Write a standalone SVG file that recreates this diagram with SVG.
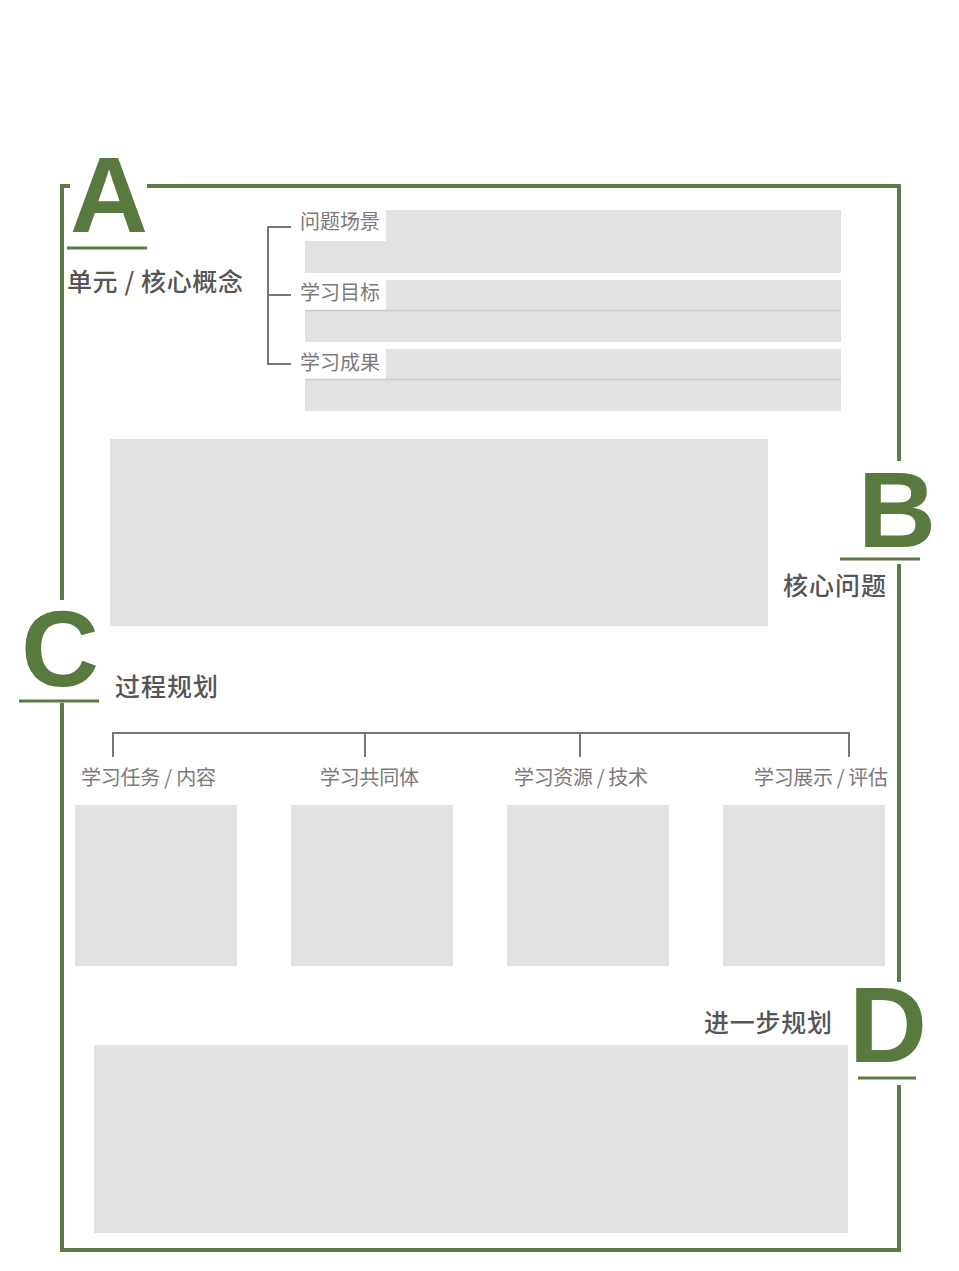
<svg xmlns="http://www.w3.org/2000/svg" width="959" height="1271" viewBox="0 0 959 1271">
<style>
.frame{fill:none;stroke:#5b7a45;stroke-width:4;stroke-linecap:square}
.uline{stroke:#5b7a45;stroke-width:3}
.letter{font-family:"Liberation Sans",Arial,sans-serif;font-weight:bold;font-size:108px;fill:#587a3f}
.title{font-family:"Noto Sans CJK SC","Noto Sans",sans-serif;font-size:25px;font-weight:500;fill:#555555}
.label{font-family:"Noto Sans CJK SC","Noto Sans",sans-serif;font-size:20px;fill:#7a7a7a}
.box{fill:#e2e2e2}
.div{stroke:#cccccc;stroke-width:1.5}
.conn{fill:none;stroke:#777777;stroke-width:2}
</style>
<rect x="0" y="0" width="959" height="1271" fill="#ffffff"/>

<g id="frame">
<path class="frame" d="M68,186 H62 V598"/>
<path class="frame" d="M62,705 V1250 H899 V1087"/>
<path class="frame" d="M899,980 V566"/>
<path class="frame" d="M899,459 V186 H149"/>
</g>

<g id="connectors">
<path class="conn" d="M291,227 H268 V364 H291 M268,295 H291"/>
<path class="conn" d="M113,757 V733 H849 V757 M365,733 V757 M580,733 V757"/>
</g>

<g id="sectionA">
<text class="letter" x="70" y="232">A</text>
<line class="uline" x1="67" y1="248" x2="147" y2="248"/>
<text class="title" x="67" y="291" textLength="176">单元 / 核心概念</text>
</g>

<g id="problemScene">
<path class="box" d="M386,210 H841 V273 H305 V241 H386 Z"/>
<text class="label" x="300" y="229">问题场景</text>
</g>
<g id="learningGoal">
<path class="box" d="M386,280 H841 V342 H305 V311 H386 Z"/>
<line class="div" x1="305" y1="310.5" x2="841" y2="310.5"/>
<text class="label" x="300" y="300">学习目标</text>
</g>
<g id="learningOutcome">
<path class="box" d="M386,349 H841 V411 H305 V380 H386 Z"/>
<line class="div" x1="305" y1="379.5" x2="841" y2="379.5"/>
<text class="label" x="300" y="370">学习成果</text>
</g>

<g id="sectionB">
<rect class="box" x="110" y="439" width="658" height="187"/>
<text class="letter" x="858" y="547">B</text>
<line class="uline" x1="840" y1="559" x2="920" y2="559"/>
<text class="title" x="783" y="595" textLength="103">核心问题</text>
</g>

<g id="sectionC">
<text class="letter" x="21" y="686">C</text>
<line class="uline" x1="19" y1="701" x2="99" y2="701"/>
<text class="title" x="115" y="696" textLength="103">过程规划</text>
</g>

<g id="task">
<text class="label" x="81" y="785" textLength="135">学习任务 / 内容</text>
<rect class="box" x="75" y="805" width="162" height="161"/>
</g>
<g id="community">
<text class="label" x="320" y="785" textLength="99">学习共同体</text>
<rect class="box" x="291" y="805" width="162" height="161"/>
</g>
<g id="resources">
<text class="label" x="514" y="785" textLength="134">学习资源 / 技术</text>
<rect class="box" x="507" y="805" width="162" height="161"/>
</g>
<g id="showcase">
<text class="label" x="754" y="785" textLength="134">学习展示 / 评估</text>
<rect class="box" x="723" y="805" width="162" height="161"/>
</g>

<g id="sectionD">
<text class="letter" x="849" y="1062">D</text>
<line class="uline" x1="858" y1="1078" x2="916" y2="1078"/>
<text class="title" x="704" y="1032" textLength="128">进一步规划</text>
<rect class="box" x="94" y="1045" width="754" height="188"/>
</g>
</svg>
